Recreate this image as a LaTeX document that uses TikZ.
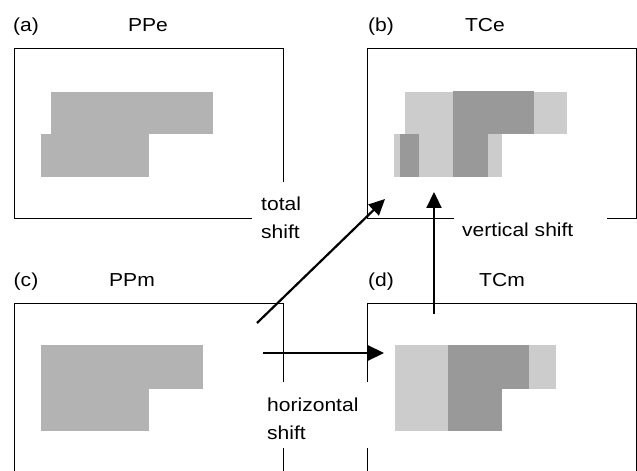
\documentclass[tikz,border=0pt]{standalone}
\usepackage{fontspec}
\setmainfont[FakeStretch=1.12]{Liberation Sans}
\usetikzlibrary{arrows.meta}
\definecolor{ppgray}{HTML}{B3B3B3}
\definecolor{tclight}{HTML}{CCCCCC}
\definecolor{tcdark}{HTML}{999999}
\begin{document}
\begin{tikzpicture}[x=1bp,y=-1bp,
  frame/.style={line width=1bp},
  lbl/.style={anchor=base,inner sep=0pt,font=\fontsize{18.8bp}{22bp}\selectfont},
  lblw/.style={anchor=base west,inner sep=0pt,font=\fontsize{18.8bp}{22bp}\selectfont},
  shiftarrow/.style={line width=2.2bp,-{Triangle[length=16bp,width=15bp]}}]
  \useasboundingbox (0,0) rectangle (637,471);

  %(a) PPe
  \node[lbl] (lbla) at (26,31.5) {(a)};
  \node[lbl] (titlea) at (148,31.5) {PPe};
  \draw[frame] (252,219) -- (14,219) -- (14,49) -- (283,49) -- (283,182);
  \fill[ppgray] (51,92) rectangle (213,134.5);
  \fill[ppgray] (41,134) rectangle (149,177);

  %(b) TCe
  \node[lbl] (lblb) at (381,31.5) {(b)};
  \node[lbl] (titleb) at (485,31.5) {TCe};
  \draw[frame] (454,219) -- (367,219) -- (367,49) -- (636,49) -- (636,219) -- (607,219);
  \fill[tclight] (405,92) rectangle (453,134.5);
  \fill[tcdark] (453,91) rectangle (534,134.5);
  \fill[tclight] (534,92) rectangle (567,134.5);
  \fill[tclight] (394,134) rectangle (400,177);
  \fill[tcdark] (400,134) rectangle (419,177);
  \fill[tclight] (419,134) rectangle (453,177);
  \fill[tcdark] (453,134) rectangle (488,177);
  \fill[tclight] (488,134) rectangle (502,177);

  %(c) PPm
  \node[lbl] (lblc) at (26,286.5) {(c)};
  \node[lbl] (titlec) at (132,286.5) {PPm};
  \draw[frame] (283,382) -- (283,303) -- (14,303) -- (14,471);
  \draw[frame] (283,448) -- (283,471);
  \fill[ppgray] (41,345) rectangle (203,388.5);
  \fill[ppgray] (41,388) rectangle (149,431);

  %(d) TCm
  \node[lbl] (lbld) at (381,286.5) {(d)};
  \node[lbl] (titled) at (502,286.5) {TCm};
  \draw[frame] (367,382) -- (367,303) -- (636,303) -- (636,471);
  \draw[frame] (367,448) -- (367,471);
  \fill[tclight] (395,345) rectangle (448,431);
  \fill[tcdark] (448,345) rectangle (529,388.5);
  \fill[tcdark] (448,388) rectangle (502,431);
  \fill[tclight] (529,345) rectangle (556,388.5);

  %shifts
  \node[lblw] (totalone) at (261,210.5) {total};
  \node[lblw] (totaltwo) at (261,238.5) {shift};
  \node[lblw] (vertone) at (462,236.5) {vertical shift};
  \node[lblw] (horione) at (267,411.5) {horizontal};
  \node[lblw] (horitwo) at (267,439) {shift};

  \coordinate (totfrom) at (257,323);
  \coordinate (totto) at (385,199);
  \coordinate (horifrom) at (263,353);
  \coordinate (horito) at (384,353);
  \coordinate (vertfrom) at (434,314);
  \coordinate (vertto) at (434,192);
  \draw[shiftarrow] (totfrom) -- (totto);
  \draw[shiftarrow] (horifrom) -- (horito);
  \draw[shiftarrow] (vertfrom) -- (vertto);
\end{tikzpicture}
\end{document}
